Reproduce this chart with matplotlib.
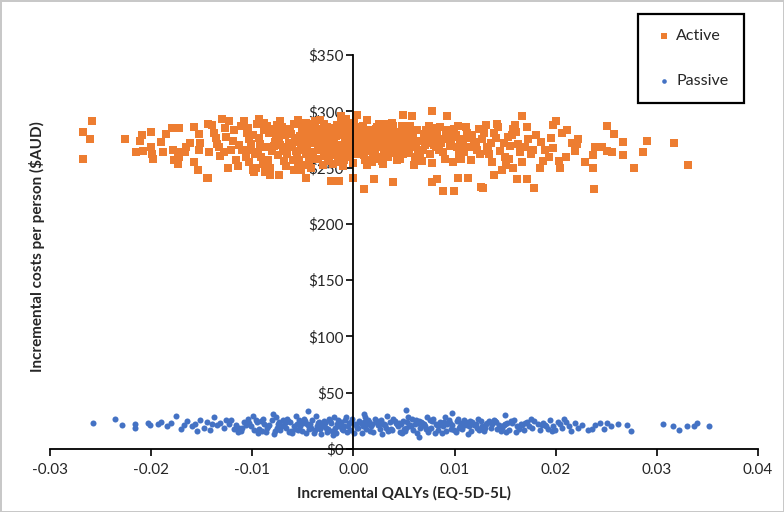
#!/usr/bin/env python
"""
Cost-effectiveness plane: incremental QALYs vs incremental costs per person,
Active vs Passive (bootstrap replicates read off the reference picture).
"""

import matplotlib
matplotlib.use("Agg")
import matplotlib.pyplot as plt
from matplotlib.ticker import FuncFormatter, MultipleLocator

C_ACTIVE = "#ED7D31"
C_PASSIVE = "#4472C4"
TXT = "#262626"

plt.rcParams.update({"font.family": ["Lato", "DejaVu Sans"],
                     "axes.unicode_minus": False})

# ── Active: sparse left tail ──
act_x_left = [-0.0258, -0.0267, -0.0260, -0.0267, -0.0226, -0.0209, -0.0211, -0.0200, -0.0215, -0.0208,
              -0.0200, -0.0199, -0.0198, -0.0188, -0.0190, -0.0185, -0.0179, -0.0172, -0.0178, -0.0173,
              -0.0177, -0.0172, -0.0173, -0.0166, -0.0167, -0.0162, -0.0158, -0.0153, -0.0152, -0.0153,
              -0.0158, -0.0154, -0.0145, -0.0144, -0.0143]
act_y_left = [291, 282, 275, 258, 275, 279, 274, 282, 264, 265,
              268, 262, 258, 264, 273, 280, 285, 285, 266, 264,
              257, 259, 253, 268, 264, 272, 286, 280, 272, 266,
              255, 248, 241, 289, 264]

# ── Active: moderate band left of the core ──
act_x_mid = [-0.0140, -0.0130, -0.0138, -0.0126, -0.0135, -0.0121, -0.0116, -0.0124, -0.0111, -0.0103,
             -0.0106, -0.0099, -0.0093, -0.0123, -0.0108, -0.0132, -0.0118, -0.0113, -0.0128, -0.0105,
             -0.0136, -0.0119, -0.0110, -0.0127, -0.0114, -0.0133]
act_y_mid = [288, 293, 281, 277, 271, 266, 257, 250, 287, 275,
             259, 248, 293, 291, 291, 260, 283, 270, 264, 281,
             276, 274, 266, 285, 251, 268]

# ── Active: dense core ──
act_x_core = [-0.0104, -0.0101, -0.0097, -0.0103, -0.0099, -0.0095, -0.0102, -0.0096,
              -0.0093, -0.0088, -0.0091, -0.0086, -0.0094, -0.0089, -0.0085, -0.0092, -0.0087,
              -0.0083, -0.0078, -0.0081, -0.0076, -0.0084, -0.0079, -0.0075, -0.0082, -0.0077, -0.0080,
              -0.0073, -0.0068, -0.0071, -0.0066, -0.0074, -0.0069, -0.0065, -0.0072, -0.0067, -0.0070,
              -0.0063, -0.0058, -0.0061, -0.0056, -0.0064, -0.0059, -0.0055, -0.0062, -0.0057, -0.0060, -0.0056,
              -0.0053, -0.0048, -0.0051, -0.0046, -0.0054, -0.0049, -0.0045, -0.0052, -0.0047, -0.0050, -0.0046,
              -0.0043, -0.0038, -0.0041, -0.0036, -0.0044, -0.0039, -0.0035, -0.0042, -0.0037, -0.0040, -0.0036, -0.0038,
              -0.0033, -0.0028, -0.0031, -0.0026, -0.0034, -0.0029, -0.0025, -0.0032, -0.0027, -0.0030, -0.0026, -0.0028,
              -0.0023, -0.0018, -0.0021, -0.0016, -0.0024, -0.0019, -0.0015, -0.0022, -0.0017, -0.0020, -0.0016, -0.0018,
              -0.0013, -0.0008, -0.0011, -0.0006, -0.0014, -0.0009, -0.0005, -0.0012, -0.0007, -0.0010, -0.0006, -0.0008, -0.0012,
              -0.0003, 0.0002, -0.0001, 0.0004, -0.0004, 0.0001, 0.0005, -0.0002, 0.0003, 0.0000, 0.0004, 0.0002, -0.0003,
              0.0007, 0.0012, 0.0009, 0.0014, 0.0006, 0.0011, 0.0015, 0.0008, 0.0013, 0.0010, 0.0014, 0.0012,
              0.0017, 0.0022, 0.0019, 0.0024, 0.0016, 0.0021, 0.0025, 0.0018, 0.0023, 0.0020, 0.0024, 0.0022,
              0.0027, 0.0032, 0.0029, 0.0034, 0.0026, 0.0031, 0.0035, 0.0028, 0.0033, 0.0030, 0.0034,
              0.0037, 0.0042, 0.0039, 0.0044, 0.0036, 0.0041, 0.0045, 0.0038, 0.0043, 0.0040, 0.0044,
              0.0047, 0.0052, 0.0049, 0.0054, 0.0046, 0.0051, 0.0055, 0.0048, 0.0053, 0.0050, 0.0054,
              0.0057, 0.0062, 0.0059, 0.0064, 0.0056, 0.0061, 0.0065, 0.0058, 0.0063, 0.0060,
              0.0067, 0.0072, 0.0069, 0.0074, 0.0066, 0.0071, 0.0075, 0.0068, 0.0073, 0.0070,
              0.0077, 0.0082, 0.0079, 0.0084, 0.0076, 0.0081, 0.0085, 0.0078, 0.0083, 0.0080,
              0.0087, 0.0092, 0.0089, 0.0094, 0.0086, 0.0091, 0.0095, 0.0088, 0.0093,
              0.0097, 0.0102, 0.0099, 0.0104, 0.0096, 0.0101, 0.0105, 0.0098, 0.0103,
              0.0107, 0.0112, 0.0109, 0.0114, 0.0106, 0.0111, 0.0115, 0.0108,
              0.0117, 0.0122, 0.0119, 0.0124, 0.0116, 0.0121, 0.0125,
              0.0127, 0.0132, 0.0129, 0.0134, 0.0136]
act_y_core = [285, 271, 262, 255, 279, 289, 266, 250,
              276, 283, 259, 268, 264, 253, 287, 271, 246,
              281, 273, 265, 288, 257, 269, 261, 250, 277, 284,
              270, 279, 286, 262, 275, 256, 268, 282, 251, 265,
              284, 276, 268, 260, 272, 289, 253, 280, 265, 257, 273,
              278, 270, 285, 263, 257, 274, 281, 266, 290, 252, 269,
              272, 281, 264, 276, 287, 258, 268, 250, 284, 261, 273, 291,
              283, 270, 277, 262, 266, 289, 256, 274, 280, 252, 286, 266,
              275, 282, 268, 288, 259, 272, 264, 285, 278, 253, 270, 261,
              279, 271, 286, 263, 268, 257, 276, 290, 282, 251, 267, 274, 262,
              273, 284, 266, 278, 259, 290, 270, 281, 262, 254, 275, 268, 287,
              280, 269, 287, 274, 264, 257, 283, 271, 292, 261, 277, 266,
              275, 284, 262, 270, 281, 266, 289, 255, 277, 272, 259, 281,
              282, 270, 277, 263, 268, 289, 274, 256, 285, 266, 279,
              269, 278, 285, 261, 274, 266, 282, 290, 257, 272, 268,
              276, 284, 265, 271, 258, 279, 263, 287, 273, 268, 281,
              281, 270, 276, 264, 287, 259, 274, 268, 283, 252,
              274, 283, 266, 278, 260, 270, 287, 256, 272, 280,
              279, 268, 285, 273, 262, 276, 266, 254, 281, 270,
              272, 280, 264, 276, 286, 258, 269, 275, 283,
              277, 268, 284, 262, 271, 279, 273, 255, 287,
              270, 281, 264, 276, 258, 286, 268, 275,
              279, 266, 273, 284, 257, 270, 262,
              275, 268, 281, 262, 272]

# ── Active: extra replicates close to x = 0 ──
act_x_dense = [-0.0047, -0.0043, -0.0035, -0.0031, -0.0024, -0.0019, -0.0013, -0.0009, -0.0004, 0.0001,
               0.0006, 0.0011, 0.0016, 0.0021, 0.0027, 0.0032, 0.0037, 0.0042, 0.0047, -0.0044,
               -0.0039, -0.0029, -0.0021, -0.0011, -0.0002, 0.0008, 0.0018, 0.0029, 0.0039, 0.0049,
               -0.0033, -0.0015, 0.0004, 0.0023, 0.0043, -0.0025, -0.0007, 0.0013, 0.0034, 0.0052]
act_y_dense = [262, 279, 258, 273, 266, 280, 260, 283, 277, 263,
               286, 275, 268, 258, 276, 261, 280, 263, 270, 255,
               288, 260, 284, 269, 282, 278, 265, 253, 287, 262,
               292, 255, 262, 286, 274, 283, 293, 252, 259, 265]

# ── Active: points above / below the core ──
act_x_out = [-0.0144, -0.0098, -0.0082, -0.0074, -0.0059, -0.0052, -0.0047, -0.0022, -0.0014, 0.0000,
             0.0010, 0.0020, 0.0039, 0.0078, 0.0083, 0.0089, 0.0099, 0.0103, 0.0113, 0.0126,
             -0.0088, -0.0073, -0.0055, -0.0039, -0.0012, 0.0003, 0.0004, 0.0049, 0.0058, 0.0078,
             0.0093]
act_y_out = [241, 246, 243, 243, 248, 248, 241, 238, 238, 241,
             231, 240, 237, 237, 240, 229, 229, 241, 241, 233,
             290, 291, 292, 289, 296, 297, 297, 297, 296, 300,
             296]

# ── Active: right tail ──
act_x_right = [0.0167, 0.0200, 0.0197, 0.0251, 0.0258, 0.0267, 0.0290, 0.0317, 0.0331, 0.0286,
               0.0267, 0.0277, 0.0256, 0.0251, 0.0246, 0.0239, 0.0237, 0.0237, 0.0238, 0.0229,
               0.0222, 0.0221, 0.0219, 0.0216, 0.0210, 0.0211, 0.0206, 0.0204, 0.0203, 0.0197,
               0.0193, 0.0195, 0.0185, 0.0187, 0.0184, 0.0179, 0.0178, 0.0172, 0.0173, 0.0172,
               0.0162, 0.0160, 0.0161, 0.0158, 0.0167, 0.0165, 0.0139, 0.0147, 0.0151, 0.0150,
               0.0155, 0.0153, 0.0143, 0.0142, 0.0131, 0.0137, 0.0128, 0.0145, 0.0141, 0.0149,
               0.0157, 0.0163, 0.0176, 0.0181, 0.0133, 0.0139, 0.0154, 0.0170, 0.0189, 0.0158]
act_y_right = [296, 291, 288, 287, 280, 273, 274, 272, 252, 264,
               261, 250, 264, 265, 268, 268, 261, 250, 231, 255,
               275, 271, 265, 272, 259, 283, 281, 250, 256, 267,
               259, 276, 273, 256, 250, 232, 266, 286, 275, 240,
               240, 288, 282, 250, 255, 264, 243, 248, 252, 259,
               269, 277, 286, 289, 288, 255, 232, 265, 276, 272,
               279, 271, 262, 279, 265, 281, 258, 268, 266, 284]

# ── Passive: left tail ──
pas_x_left = [-0.0257, -0.0236, -0.0229, -0.0216, -0.0216, -0.0203, -0.0201, -0.0193, -0.0190, -0.0184,
              -0.0175, -0.0180, -0.0170, -0.0165, -0.0160, -0.0157, -0.0152, -0.0148, -0.0145, -0.0142,
              -0.0138, -0.0135, -0.0132, -0.0128, -0.0126, -0.0168, -0.0155, -0.0140]
pas_y_left = [23, 27, 21, 22, 19, 23, 21, 22, 24, 20,
              29, 23, 18, 25, 20, 22, 26, 19, 24, 17,
              28, 21, 23, 19, 26, 21, 16, 22]

# ── Passive: dense core ──
pas_x_core = [-0.0123, -0.0118, -0.0121, -0.0116, -0.0114,
              -0.0113, -0.0108, -0.0111, -0.0106, -0.0104,
              -0.0103, -0.0098, -0.0101, -0.0096, -0.0094, -0.0099,
              -0.0093, -0.0088, -0.0091, -0.0086, -0.0084, -0.0089,
              -0.0083, -0.0078, -0.0081, -0.0076, -0.0074, -0.0079, -0.0077,
              -0.0073, -0.0068, -0.0071, -0.0066, -0.0064, -0.0069, -0.0067,
              -0.0063, -0.0058, -0.0061, -0.0056, -0.0054, -0.0059, -0.0057, -0.0062,
              -0.0053, -0.0048, -0.0051, -0.0046, -0.0044, -0.0049, -0.0047, -0.0052,
              -0.0043, -0.0038, -0.0041, -0.0036, -0.0034, -0.0039, -0.0037, -0.0042,
              -0.0033, -0.0028, -0.0031, -0.0026, -0.0024, -0.0029, -0.0027, -0.0032,
              -0.0023, -0.0018, -0.0021, -0.0016, -0.0014, -0.0019, -0.0017, -0.0022,
              -0.0013, -0.0008, -0.0011, -0.0006, -0.0004, -0.0009, -0.0007, -0.0012,
              -0.0003, 0.0002, -0.0001, 0.0004, 0.0006, 0.0001, 0.0003, -0.0002,
              0.0007, 0.0012, 0.0009, 0.0014, 0.0016, 0.0011, 0.0013, 0.0008,
              0.0017, 0.0022, 0.0019, 0.0024, 0.0026, 0.0021, 0.0023, 0.0018,
              0.0027, 0.0032, 0.0029, 0.0034, 0.0036, 0.0031, 0.0033, 0.0028,
              0.0037, 0.0042, 0.0039, 0.0044, 0.0046, 0.0041, 0.0043, 0.0038,
              0.0047, 0.0052, 0.0049, 0.0054, 0.0056, 0.0051, 0.0053, 0.0048,
              0.0057, 0.0062, 0.0059, 0.0064, 0.0066, 0.0061, 0.0063, 0.0058,
              0.0067, 0.0072, 0.0069, 0.0074, 0.0076, 0.0071, 0.0073, 0.0068,
              0.0077, 0.0082, 0.0079, 0.0084, 0.0086, 0.0081, 0.0083, 0.0078,
              0.0087, 0.0092, 0.0089, 0.0094, 0.0096, 0.0091, 0.0093, 0.0088,
              0.0097, 0.0102, 0.0099, 0.0104, 0.0106, 0.0101, 0.0103,
              0.0107, 0.0112, 0.0109, 0.0114, 0.0116, 0.0111, 0.0113,
              0.0117, 0.0122, 0.0119, 0.0124, 0.0126, 0.0121, 0.0123,
              0.0127, 0.0132, 0.0129, 0.0134, 0.0136, 0.0131,
              0.0137, 0.0142, 0.0139, 0.0144, 0.0146, 0.0141,
              0.0147, 0.0152, 0.0149, 0.0154, 0.0156, 0.0151,
              0.0157, 0.0162, 0.0159, 0.0164, 0.0166, 0.0161,
              0.0167, 0.0172, 0.0169, 0.0174, 0.0176,
              0.0177, 0.0182, 0.0179, 0.0184, 0.0186,
              0.0187, 0.0192, 0.0189, 0.0194, 0.0196,
              0.0197, 0.0202, 0.0199, 0.0204, 0.0206]
pas_y_core = [22, 18, 26, 21, 15,
              19, 24, 16, 21, 27,
              23, 17, 20, 26, 14, 29,
              18, 22, 25, 15, 20, 27,
              21, 16, 26, 19, 24, 13, 28,
              17, 23, 20, 27, 15, 25, 19,
              24, 18, 14, 22, 26, 20, 29, 16,
              20, 25, 16, 22, 18, 27, 14, 23,
              22, 17, 26, 20, 24, 14, 29, 19,
              18, 23, 21, 15, 27, 25, 19, 13,
              25, 19, 16, 22, 20, 28, 14, 23,
              21, 26, 18, 15, 23, 20, 28, 24,
              17, 22, 27, 19, 25, 14, 21, 24,
              23, 18, 20, 26, 16, 28, 22, 14,
              20, 24, 15, 21, 18, 27, 25, 22,
              26, 19, 22, 16, 24, 21, 29, 13,
              18, 23, 27, 20, 15, 25, 22, 17,
              22, 19, 25, 28, 21, 16, 24, 14,
              20, 26, 17, 23, 19, 22, 14, 27,
              24, 18, 21, 15, 26, 20, 28, 23,
              19, 22, 27, 17, 24, 14, 21, 25,
              23, 16, 20, 26, 18, 28, 22, 14,
              21, 25, 17, 19, 23, 15, 27,
              18, 22, 26, 20, 16, 24, 13,
              24, 19, 21, 17, 25, 22, 27,
              20, 23, 16, 25, 19, 22,
              22, 18, 26, 21, 16, 24,
              19, 23, 21, 17, 25, 15,
              23, 20, 26, 18, 22, 15,
              21, 24, 17, 20, 27,
              19, 22, 25, 17, 21,
              23, 18, 21, 26, 16,
              20, 24, 17, 22, 19]

# ── Passive: extra replicates filling the band ──
pas_x_dense = [-0.0095, -0.0085, -0.0075, -0.0065, -0.0055, -0.0045, -0.0035, -0.0025, -0.0015, -0.0005,
               0.0005, 0.0015, 0.0025, 0.0035, 0.0045, 0.0055, 0.0065, 0.0075, 0.0085, 0.0095,
               0.0105, 0.0115, 0.0125, -0.0090, -0.0070, -0.0050, -0.0030, -0.0010, 0.0010, 0.0030,
               0.0050, 0.0070, 0.0090, 0.0110, 0.0130, 0.0150, 0.0170, 0.0190, -0.0110, 0.0140]
pas_y_dense = [24, 19, 22, 25, 17, 21, 23, 18, 26, 20,
               19, 24, 22, 17, 23, 20, 25, 18, 21, 23,
               20, 25, 18, 16, 26, 23, 20, 17, 24, 22,
               18, 22, 24, 21, 19, 22, 23, 20, 19, 25]

# ── Passive: right tail and stray points ──
pas_x_right = [0.0352, 0.0340, 0.0337, 0.0330, 0.0322, 0.0316, 0.0306, 0.0274, 0.0270, 0.0255,
               0.0251, 0.0244, 0.0239, 0.0232, 0.0236, 0.0222, 0.0219, 0.0213, 0.0210, 0.0215,
               0.0226, 0.0248, 0.0262, 0.0208]
pas_y_right = [20, 23, 20, 20, 17, 20, 22, 16, 21, 20,
               23, 23, 21, 17, 18, 19, 23, 20, 24, 16,
               21, 18, 22, 27]
pas_x_out = [-0.0045, 0.0052, 0.0097, 0.0010, -0.0080, 0.0150, -0.0020, 0.0065]
pas_y_out = [34, 35, 32, 31, 31, 30, 12, 11]

act_x = act_x_left + act_x_mid + act_x_core + act_x_dense + act_x_out + act_x_right
act_y = act_y_left + act_y_mid + act_y_core + act_y_dense + act_y_out + act_y_right
pas_x = pas_x_left + pas_x_core + pas_x_dense + pas_x_right + pas_x_out
pas_y = pas_y_left + pas_y_core + pas_y_dense + pas_y_right + pas_y_out

fig = plt.figure(figsize=(7.84, 5.12), dpi=100)
fig.patch.set_edgecolor("#c8c8c8")
fig.patch.set_linewidth(2)
ax = fig.add_axes([50 / 784, 63 / 512, 708 / 784, 394 / 512])

# points sit under the axis lines and tick labels, as in Excel
sc_a = ax.scatter(act_x, act_y, marker="s", s=27, color=C_ACTIVE, linewidths=0,
                  label="Active", zorder=2)
sc_p = ax.scatter(pas_x, pas_y, marker="o", s=19, color=C_PASSIVE, linewidths=0,
                  label="Passive", zorder=2)

ax.set_xlim(-0.03, 0.04)
ax.set_ylim(0, 350)
ax.xaxis.set_major_locator(MultipleLocator(0.01))
ax.yaxis.set_major_locator(MultipleLocator(50))
ax.xaxis.set_major_formatter(FuncFormatter(lambda v, p: f"{v:.2f}"))
ax.yaxis.set_major_formatter(FuncFormatter(lambda v, p: f"\\${v:.0f}"))

# Excel-style axes: vertical axis crossing at x = 0
ax.spines["left"].set_position(("data", 0))
ax.spines["top"].set_visible(False)
ax.spines["right"].set_visible(False)
for s in ("left", "bottom"):
    ax.spines[s].set_linewidth(1.3)
    ax.spines[s].set_color("black")
ax.tick_params(axis="both", direction="out", length=5, width=1.2, color="black",
               labelsize=11, labelcolor=TXT)
ax.tick_params(axis="x", pad=5)
ax.tick_params(axis="y", pad=2)

ax.set_xlabel("Incremental QALYs (EQ-5D-5L)", fontsize=11, fontweight="bold", color=TXT)
ax.set_ylabel("Incremental costs per person (\\$AUD)", fontsize=11, fontweight="bold", color=TXT)
ax.xaxis.set_label_coords(0.5, -0.095)
ax.yaxis.set_label_coords(-0.007, 0.515)

leg = ax.legend(handles=[sc_a, sc_p], loc="upper left",
                bbox_to_anchor=(638 / 784, 1 - 14 / 512), bbox_transform=fig.transFigure,
                borderaxespad=0, fancybox=False, framealpha=1, edgecolor="black",
                fontsize=11.5, borderpad=0.95, labelspacing=1.9, handlelength=1.3,
                handletextpad=0.15, scatterpoints=1)
leg.get_frame().set_linewidth(1.6)
leg.legend_handles[0].set_sizes([14])
leg.legend_handles[1].set_sizes([11])
for t in leg.get_texts():
    t.set_color(TXT)

fig.savefig("out.png", dpi=100)
plt.close(fig)
